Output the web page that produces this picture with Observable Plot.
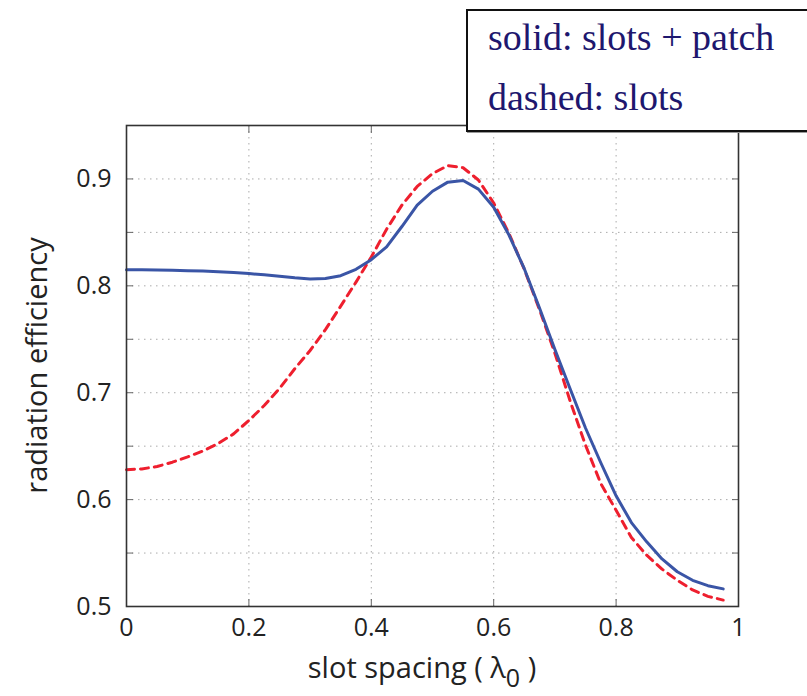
<!DOCTYPE html>
<html>
<head>
<meta charset="utf-8">
<script src="https://cdn.jsdelivr.net/npm/d3@7"></script>
<script src="https://cdn.jsdelivr.net/npm/@observablehq/plot@0.6"></script>
<style>
  body { margin: 0; background: #fff; overflow: hidden; }
  #wrap { position: relative; width: 807px; height: 696px; overflow: hidden; }
  #wrap svg { position: absolute; left: 0; top: 0; }
  .key {
    position: absolute; left: 466px; top: 9px; width: 380px; height: 119px;
    border: 2px solid #111; background: #fff; box-shadow: 1px 1px 0 #999;
    font-family: "Liberation Serif", serif; font-size: 38px; line-height: 38px; color: #1e176e;
  }
  .key div { position: absolute; left: 20px; white-space: nowrap; }
</style>
</head>
<body>
<div id="wrap"></div>
<script>
// slot spacing in free-space wavelengths
const spacing = [0, 0.025, 0.05, 0.075, 0.1, 0.125, 0.15, 0.175, 0.2, 0.225,
  0.25, 0.275, 0.3, 0.325, 0.35, 0.375, 0.4, 0.425, 0.45, 0.475,
  0.5, 0.525, 0.55, 0.575, 0.6, 0.625, 0.65, 0.675, 0.7, 0.725,
  0.75, 0.775, 0.8, 0.825, 0.85, 0.875, 0.9, 0.925, 0.95, 0.975];

// radiation efficiency, slots + patch (solid)
const slotsPatch = [0.815, 0.815, 0.8148, 0.8145, 0.8142, 0.8138, 0.8132, 0.8125, 0.8115, 0.8103,
  0.809, 0.8075, 0.8065, 0.8068, 0.8095, 0.8155, 0.8245, 0.8365, 0.8555, 0.8755,
  0.8885, 0.897, 0.8985, 0.8905, 0.8735, 0.8475, 0.816, 0.779, 0.7405, 0.7035,
  0.667, 0.6345, 0.6035, 0.5785, 0.5605, 0.5445, 0.5325, 0.5245, 0.5195, 0.5165];

// radiation efficiency, slots only (dashed)
const slotsOnly = [0.628, 0.6287, 0.631, 0.635, 0.64, 0.6455, 0.6525, 0.6615, 0.674, 0.688,
  0.704, 0.7225, 0.7395, 0.759, 0.781, 0.8035, 0.827, 0.853, 0.8755, 0.893,
  0.905, 0.9125, 0.9105, 0.899, 0.8775, 0.849, 0.8155, 0.7775, 0.737, 0.692,
  0.651, 0.615, 0.59, 0.5645, 0.548, 0.535, 0.5245, 0.5155, 0.5095, 0.506];

const xTickLabels = [0, 0.2, 0.4, 0.6, 0.8, 1];
const xGridLines = [0.2, 0.4, 0.6, 0.8];
const yTickLabels = [0.5, 0.6, 0.7, 0.8, 0.9];
const yGridLines = [0.55, 0.6, 0.65, 0.7, 0.75, 0.8, 0.85, 0.9];

const legendLines = ["solid: slots + patch", "dashed: slots"];

const rows = spacing.map((x, i) => ({x, solid: slotsPatch[i], dashed: slotsOnly[i]}));

const grid = {stroke: "#aaa", strokeOpacity: 1, strokeWidth: 1, strokeDasharray: "1.5,4.5"};
const inTick = {tickSize: -7, text: null, label: null, stroke: "#666"};

const plot = Plot.plot({
  width: 807,
  height: 696,
  marginLeft: 126,
  marginRight: 69,
  marginTop: 125,
  marginBottom: 90,
  x: {domain: [0, 1]},
  y: {domain: [0.5, 0.95]},
  style: {fontFamily: "'Open Sans', sans-serif", fontSize: "25px", color: "#222", background: "transparent"},
  marks: [
    Plot.gridX(xGridLines, grid),
    Plot.gridY(yGridLines, grid),
    Plot.axisX(xGridLines, {anchor: "bottom", ...inTick}),
    Plot.axisX(xGridLines, {anchor: "top", ...inTick}),
    Plot.axisY(yGridLines, {anchor: "left", ...inTick}),
    Plot.axisY(yGridLines, {anchor: "right", ...inTick}),
    Plot.axisX(xTickLabels, {anchor: "bottom", tickSize: 0, tickPadding: 12, tickFormat: d => String(d), label: null}),
    Plot.axisY(yTickLabels, {anchor: "left", tickSize: 0, tickPadding: 15, tickFormat: d => String(d), label: null}),
    Plot.line(rows, {x: "x", y: "dashed", stroke: "#ee1f2e", strokeWidth: 3, strokeDasharray: "8,6"}),
    Plot.line(rows, {x: "x", y: "solid", stroke: "#3a55a6", strokeWidth: 3}),
    Plot.frame({stroke: "#333", strokeWidth: 1.6})
  ]
});

// axis titles
const sx = plot.scale("x"), sy = plot.scale("y");
const svg = d3.select(plot);
const cx = (sx.range[0] + sx.range[1]) / 2;
const cy = (sy.range[0] + sy.range[1]) / 2;

svg.append("text")
  .attr("transform", `translate(47,${cy}) rotate(-90)`)
  .attr("text-anchor", "middle")
  .attr("font-size", 29)
  .attr("fill", "#222")
  .text("radiation efficiency");

const xl = svg.append("text")
  .attr("x", cx - 10)
  .attr("y", 678)
  .attr("text-anchor", "middle")
  .attr("font-size", 29)
  .attr("fill", "#222");
xl.append("tspan").text("slot spacing ( λ");
xl.append("tspan").attr("dy", 9).attr("font-size", 25).text("0");
xl.append("tspan").attr("dy", -9).text(" )");

const wrap = document.getElementById("wrap");
wrap.appendChild(plot);

// key box
const key = document.createElement("div");
key.className = "key";
legendLines.forEach((t, i) => {
  const d = document.createElement("div");
  d.style.top = (7 + i * 60) + "px";
  d.textContent = t;
  key.appendChild(d);
});
wrap.appendChild(key);
</script>
</body>
</html>
